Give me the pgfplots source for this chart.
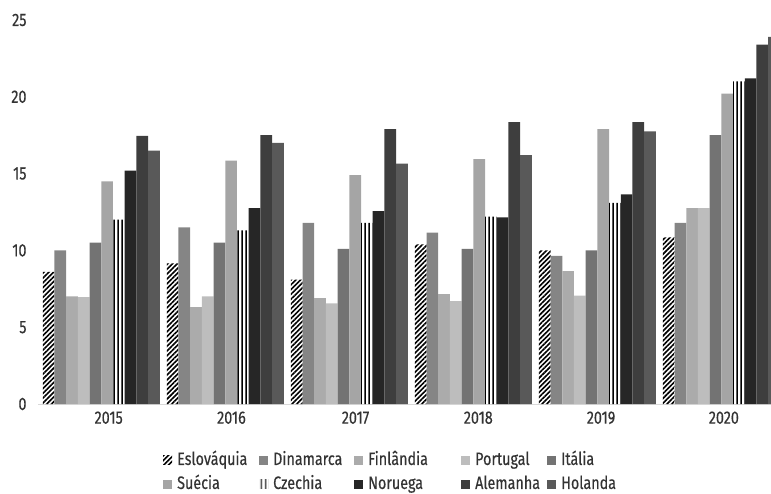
\documentclass[border=0pt]{standalone}
\usepackage{fontspec}
\setmainfont{Fira Sans}[FakeStretch=0.8, FakeBold=0.4]
\usepackage{pgfplots}
\pgfplotsset{compat=1.18}
\usepackage{pgfplotstable}
\usetikzlibrary{patterns.meta}

\definecolor{cDin}{HTML}{858585}
\definecolor{cFin}{HTML}{ABABAB}
\definecolor{cPor}{HTML}{BDBDBD}
\definecolor{cIta}{HTML}{737373}
\definecolor{cSue}{HTML}{A5A5A5}
\definecolor{cNor}{HTML}{262626}
\definecolor{cAle}{HTML}{3E3E3E}
\definecolor{cHol}{HTML}{595959}
\definecolor{txt}{HTML}{333333}
\definecolor{axl}{HTML}{D9D9D9}

\pgfplotstableread{
x   Esl   Din   Fin   Por   Ita   Sue   Cze   Nor   Ale   Hol
0   8.6   10.0  7.0   6.95  10.5  14.5  12.0  15.2  17.45 16.5
1   9.15  11.5  6.3   7.0   10.5  15.85 11.3  12.75 17.5  17.0
2   8.1   11.8  6.9   6.55  10.1  14.9  11.8  12.55 17.9  15.65
3   10.4  11.15 7.15  6.7   10.1  15.95 12.2  12.15 18.35 16.2
4   10.0  9.65  8.65  7.05  10.0  17.9  13.1  13.65 18.35 17.75
5   10.85 11.8  12.75 12.75 17.5  20.2  21.0  21.2  23.4  23.9
}\data

\newcommand{\fs}{\fontsize{18}{21}\selectfont}

\begin{document}
\begin{tikzpicture}
\begin{axis}[
  at={(0,0)}, anchor=south west,
  scale only axis, width=733bp, height=384bp,
  xmin=-0.51, xmax=5.40, ymin=0, ymax=25,
  ybar=0pt, bar width=11.7bp,
  axis x line*=bottom, axis y line*=left,
  y axis line style={draw=none},
  x axis line style={draw=axl, line width=0.8bp, -},
  major tick length=0pt,
  xtick={0.06,1.05,2.05,3.04,4.03,5.02},
  xticklabels={2015,2016,2017,2018,2019,2020},
  ytick={0,5,10,15,20,25},
  tick label style={font=\fs, text=txt},
  yticklabel style={xshift=-8bp},
  xticklabel style={yshift=-4bp},
  /pgf/number format/assume math mode=true,
  legend columns=5,
  legend cell align=left,
  legend style={draw=none, fill=none, inner sep=0pt, font=\fs, text=txt,
    at={(0.1705,-0.127)}, anchor=north west,
    nodes={inner sep=0pt, text height=12bp, text depth=3bp},
    /tikz/every odd column/.style={column sep=5bp},
    row sep=9bp},
  legend image code/.code={\path[#1, draw=none] (0bp,-4.5bp) rectangle (9bp,4.5bp);},
]
\addplot[draw=none, pattern={Lines[angle=45,distance=3.4bp,line width=1.6bp]}, pattern color=black] table[x=x,y=Esl]{\data};
\addplot[draw=none, fill=cDin] table[x=x,y=Din]{\data};
\addplot[draw=none, fill=cFin] table[x=x,y=Fin]{\data};
\addplot[draw=none, fill=cPor] table[x=x,y=Por]{\data};
\addplot[draw=none, fill=cIta] table[x=x,y=Ita]{\data};
\addplot[draw=none, fill=cSue] table[x=x,y=Sue]{\data};
\addplot[draw=none, pattern={Lines[angle=90,distance=3.9bp,line width=1.4bp]}, pattern color=black] table[x=x,y=Cze]{\data};
\addplot[draw=none, fill=cNor] table[x=x,y=Nor]{\data};
\addplot[draw=none, fill=cAle] table[x=x,y=Ale]{\data};
\addplot[draw=none, fill=cHol] table[x=x,y=Hol]{\data};
\legend{\makebox[82bp][l]{Eslováquia},\makebox[81bp][l]{Dinamarca},\makebox[93bp][l]{Finlândia},\makebox[72bp][l]{Portugal},Itália,
        \makebox[82bp][l]{Suécia},\makebox[81bp][l]{Czechia},\makebox[93bp][l]{Noruega},\makebox[72bp][l]{Alemanha},Holanda}
\end{axis}
\pgfresetboundingbox
\path[use as bounding box] (-38bp,-90bp) rectangle (733bp,404bp);
\end{tikzpicture}
\end{document}
